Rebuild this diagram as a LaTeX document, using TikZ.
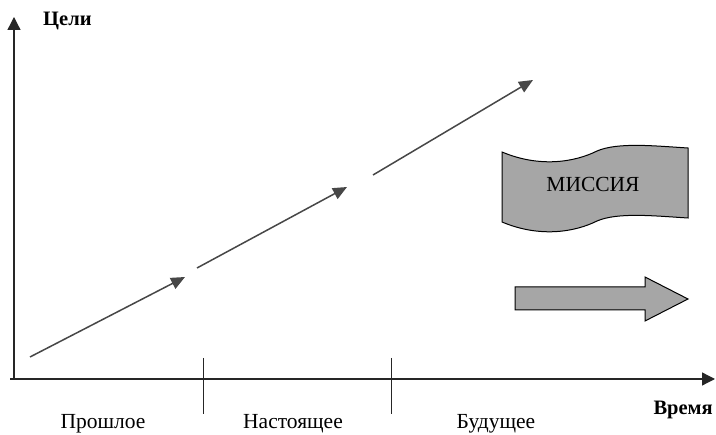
\documentclass[tikz,border=0pt]{standalone}
\usepackage{fontspec}
\setmainfont{Liberation Serif}
\usetikzlibrary{arrows.meta}
\begin{document}
\begin{tikzpicture}[x=1pt,y=-1pt,
  axis/.style={line width=1.3pt,black!85,-{Triangle[length=13pt,width=13pt]}},
  trend/.style={line width=1.5pt,black!72,-{Triangle[length=14pt,width=12pt]}},
  tick/.style={line width=0.9pt,black!85},
  lbl/.style={font=\fontsize{21.5}{24}\selectfont,inner sep=0pt,anchor=base},
  blbl/.style={font=\fontsize{20.5}{24}\selectfont\bfseries,inner sep=0pt,anchor=base},
  shapefill/.style={fill=black!35,draw=black,line width=1pt}]
\useasboundingbox (0,0) rectangle (716,435);
% axes
\coordinate (O) at (14,379);
\coordinate (Ytip) at (14,17);
\coordinate (Xstart) at (10,379);
\coordinate (Xtip) at (715,379);
\draw[axis] (O) -- (Ytip);
\draw[axis] (Xstart) -- (Xtip);
% ticks
\coordinate (t1a) at (203,358); \coordinate (t1b) at (203,414);
\coordinate (t2a) at (391,358); \coordinate (t2b) at (391,414);
\draw[tick] (t1a) -- (t1b);
\draw[tick] (t2a) -- (t2b);
% trend arrows
\coordinate (s1) at (30,357); \coordinate (e1) at (185,277);
\coordinate (s2) at (197,268); \coordinate (e2) at (347,187);
\coordinate (s3) at (373,175); \coordinate (e3) at (533,80);
\draw[trend] (s1) -- (e1);
\draw[trend] (s2) -- (e2);
\draw[trend] (s3) -- (e3);
% mission banner
\draw[shapefill] (502,152) .. controls (540,168) and (575,162) .. (597,151)
  .. controls (618,142) and (655,146) .. (688,148)
  -- (688,218)
  .. controls (655,216) and (618,212) .. (597,221)
  .. controls (575,232) and (540,238) .. (502,222) -- cycle;
\node[lbl] (mission) at (593,192) {МИССИЯ};
% block arrow
\draw[shapefill] (515,287) -- (645,287) -- (645,277) -- (688,299) -- (645,321) -- (645,310) -- (515,310) -- cycle;
% labels
\node[blbl,anchor=base west] (goals) at (43,26) {Цели};
\node[blbl,anchor=base east] (time) at (713,415) {Время};
\node[lbl] (past) at (103,429) {Прошлое};
\node[lbl] (present) at (293,429) {Настоящее};
\node[lbl] (future) at (496,429) {Будущее};
\end{tikzpicture}
\end{document}
